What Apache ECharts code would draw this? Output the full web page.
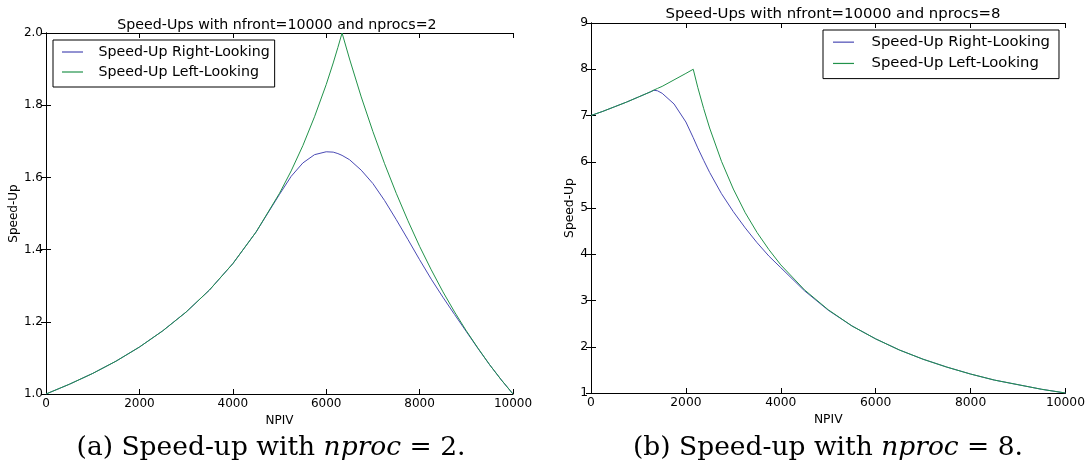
<!DOCTYPE html>
<html>
<head>
<meta charset="utf-8">
<script src="https://cdn.jsdelivr.net/npm/echarts@6/dist/echarts.min.js"></script>
<style>
html,body{margin:0;padding:0;background:#fff;}
#chart{width:1088px;height:465px;}
</style>
</head>
<body>
<div id="chart"></div>
<script>
// ---- Data ----
const seriesNames = ['Speed-Up Right-Looking', 'Speed-Up Left-Looking'];
const titleLeft = 'Speed-Ups with nfront=10000 and nprocs=2';
const titleRight = 'Speed-Ups with nfront=10000 and nprocs=8';

// Panel (a): nprocs = 2
const npivA = [0, 500, 1000, 1500, 2000, 2500, 3000, 3500, 4000, 4500, 5000, 5250, 5500, 5750, 6000, 6150, 6250, 6340, 6500, 6750, 7000, 7250, 7500, 7750, 8000, 8250, 8500, 8750, 9000, 9250, 9500, 9750, 10000];
const rightLookingA = [1.000, 1.027, 1.057, 1.091, 1.130, 1.175, 1.227, 1.288, 1.361, 1.449, 1.553, 1.603, 1.640, 1.663, 1.671, 1.670, 1.666, 1.661, 1.649, 1.620, 1.583, 1.536, 1.483, 1.428, 1.372, 1.318, 1.268, 1.220, 1.173, 1.126, 1.081, 1.039, 1.000];
const leftLookingA  = [1.000, 1.027, 1.057, 1.091, 1.130, 1.175, 1.227, 1.288, 1.361, 1.449, 1.556, 1.618, 1.688, 1.768, 1.857, 1.917, 1.960, 2.000, 1.928, 1.823, 1.727, 1.638, 1.556, 1.480, 1.409, 1.344, 1.283, 1.227, 1.175, 1.127, 1.081, 1.039, 1.000];

// Panel (b): nprocs = 8
const npivB = [0, 250, 500, 750, 1000, 1250, 1325, 1400, 1500, 1750, 2000, 2155, 2250, 2375, 2500, 2750, 3000, 3250, 3500, 3750, 4000, 4500, 5000, 5500, 6000, 6500, 7000, 7500, 8000, 8500, 9000, 9500, 10000];
const rightLookingB = [7.00, 7.09, 7.19, 7.29, 7.40, 7.51, 7.545, 7.535, 7.48, 7.25, 6.86, 6.52, 6.30, 6.03, 5.77, 5.31, 4.92, 4.57, 4.25, 3.96, 3.71, 3.21, 2.79, 2.45, 2.17, 1.93, 1.73, 1.56, 1.41, 1.28, 1.18, 1.08, 1.00];
const leftLookingB  = [7.00, 7.09, 7.19, 7.29, 7.40, 7.51, 7.55, 7.585, 7.63, 7.77, 7.91, 8.00, 7.61, 7.15, 6.73, 6.01, 5.41, 4.90, 4.47, 4.10, 3.77, 3.23, 2.80, 2.45, 2.17, 1.93, 1.73, 1.56, 1.41, 1.28, 1.18, 1.08, 1.00];

const xTicks = {min: 0, max: 10000, interval: 2000};
const yTicksA = {min: 1.0, max: 2.0, interval: 0.2};
const yTicksB = {min: 1, max: 9, interval: 1};

// ---- Styles ----
const FONT = 'DejaVu Sans';
const BLUE = '#4a4ab4';
const GREEN = '#21924a';
const pair = (xs, ys) => xs.map((x, i) => [x, ys[i]]);

function xAx(grid, pos, show, gap, fs) {
  return {
    type: 'value', gridIndex: grid, position: pos, min: xTicks.min, max: xTicks.max, interval: xTicks.interval,
    name: show ? 'NPIV' : '', nameLocation: 'middle', nameGap: gap,
    nameTextStyle: {fontFamily: FONT, fontSize: fs, color: '#000'},
    axisLine: {show: true, lineStyle: {color: '#000', width: 1}},
    axisTick: {show: true, inside: true, length: 5, lineStyle: {color: '#000'}},
    axisLabel: {show: show, fontFamily: FONT, fontSize: fs, color: '#000', margin: 4, formatter: v => String(v)},
    splitLine: {show: false}
  };
}
function yAx(grid, pos, show, t, fmt, gap, fs) {
  return {
    type: 'value', gridIndex: grid, position: pos, min: t.min, max: t.max, interval: t.interval,
    name: show ? 'Speed-Up' : '', nameLocation: 'middle', nameGap: gap, nameRotate: 90,
    nameTextStyle: {fontFamily: FONT, fontSize: fs, color: '#000'},
    axisLine: {show: true, lineStyle: {color: '#000', width: 1}},
    axisTick: {show: true, inside: true, length: 5, lineStyle: {color: '#000'}},
    axisLabel: {show: show, fontFamily: FONT, fontSize: fs, color: '#000', margin: 3, formatter: fmt},
    splitLine: {show: false}
  };
}
function legendAt(pos, pad, fs, lh, txtPad) {
  return Object.assign({
    data: seriesNames, orient: 'vertical', selectedMode: false, icon: 'rect',
    backgroundColor: '#fff', borderColor: '#000', borderWidth: 1, borderRadius: 0,
    padding: pad, itemGap: 0, itemWidth: 21, itemHeight: 1.2,
    textStyle: {fontFamily: FONT, fontSize: fs, lineHeight: lh, color: '#000', padding: [0, 0, 0, txtPad]}
  }, pos);
}
function lineSeries(name, data, color, xi, yi) {
  return {
    name: name, type: 'line', xAxisIndex: xi, yAxisIndex: yi, data: data,
    symbol: 'none', smooth: false, animation: false,
    lineStyle: {color: color, width: 1}, itemStyle: {color: color}, z: 3
  };
}
const capRich = fs => ({
  r: {fontFamily: 'DejaVu Serif', fontSize: fs, fill: '#000'},
  i: {fontFamily: 'DejaVu Serif', fontStyle: 'italic', fontSize: fs, fill: '#000'}
});

const chart = echarts.init(document.getElementById('chart'), null, {renderer: 'canvas'});
chart.setOption({
  backgroundColor: '#fff',
  animation: false,
  title: [
    {text: titleLeft, left: 272, top: 13, textAlign: 'center', textStyle: {fontFamily: FONT, fontSize: 14.2, fontWeight: 'normal', color: '#000'}},
    {text: titleRight, left: 828, top: 2, textAlign: 'center', textStyle: {fontFamily: FONT, fontSize: 14.9, fontWeight: 'normal', color: '#000'}}
  ],
  grid: [
    {left: 46, top: 33, width: 467, height: 361},
    {left: 591, top: 23, width: 476, height: 370}
  ],
  xAxis: [xAx(0, 'bottom', true, 17, 12), xAx(0, 'top', false, 17, 12), xAx(1, 'bottom', true, 20, 12.3), xAx(1, 'top', false, 20, 12.3)],
  yAxis: [
    yAx(0, 'left', true, yTicksA, v => v.toFixed(1), 24, 12),
    yAx(0, 'right', false, yTicksA, v => v.toFixed(1), 24, 12),
    yAx(1, 'left', true, yTicksB, v => String(v), 15, 12.3),
    yAx(1, 'right', false, yTicksB, v => String(v), 15, 12.3)
  ],
  legend: [
    legendAt({left: 53, top: 40}, [2, 5, 5, 9], 14.2, 20, 10.5),
    legendAt({left: 823, top: 30}, [1.5, 9, 4.5, 10], 14.8, 21.3, 12.5)
  ],
  series: [
    lineSeries(seriesNames[0], pair(npivA, rightLookingA), BLUE, 0, 0),
    lineSeries(seriesNames[1], pair(npivA, leftLookingA), GREEN, 0, 0),
    lineSeries(seriesNames[0], pair(npivB, rightLookingB), BLUE, 2, 2),
    lineSeries(seriesNames[1], pair(npivB, leftLookingB), GREEN, 2, 2)
  ],
  graphic: [
    {type: 'text', x: 271, y: 448, style: {
      text: '{r|(a) Speed-up with }{i|nproc}{r| = 2.}', align: 'center', verticalAlign: 'middle', rich: capRich(26.5)
    }},
    {type: 'text', x: 828, y: 448, style: {
      text: '{r|(b) Speed-up with }{i|nproc}{r| = 8.}', align: 'center', verticalAlign: 'middle', rich: capRich(26.5)
    }}
  ]
});
</script>
</body>
</html>
